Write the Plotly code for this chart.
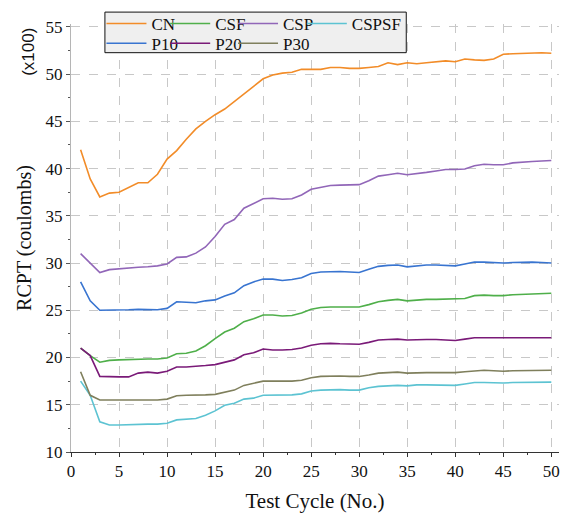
import plotly.graph_objects as go

# Test cycle numbers
cycles = list(range(1, 51))

# RCPT charge passed (x100 coulombs) per mix
cn = [42.0, 38.9, 37.0, 37.4, 37.5, 38.0, 38.5, 38.5, 39.4, 41.0,
      41.9, 43.1, 44.2, 45.0, 45.7, 46.3, 47.1, 48.0, 48.7, 49.5,
      49.9, 50.1, 50.2, 50.5, 50.5, 50.5, 50.7, 50.7, 50.6, 50.6,
      50.7, 50.8, 51.2, 51.0, 51.2, 51.1, 51.2, 51.3, 51.4, 51.3,
      51.6, 51.5, 51.45, 51.6, 52.1, 52.15, 52.2, 52.25, 52.25, 52.2]
csf = [21.0, 20.2, 19.5, 19.7, 19.75, 19.8, 19.8, 19.85, 19.85, 19.95,
       20.4, 20.45, 20.7, 21.25, 22.0, 22.7, 23.1, 23.8, 24.1, 24.5,
       24.5, 24.4, 24.45, 24.7, 25.1, 25.3, 25.35, 25.35, 25.35, 25.35,
       25.6, 25.9, 26.05, 26.15, 26.0, 26.1, 26.15, 26.15, 26.2, 26.2,
       26.25, 26.55, 26.6, 26.55, 26.55, 26.65, 26.7, 26.75, 26.8, 26.8]
csp = [31.0, 30.0, 29.0, 29.3, 29.4, 29.45, 29.55, 29.6, 29.7, 29.9,
       30.6, 30.65, 31.05, 31.7, 32.8, 34.1, 34.6, 35.8, 36.3, 36.8,
       36.85, 36.75, 36.8, 37.2, 37.8, 38.0, 38.2, 38.25, 38.3, 38.3,
       38.7, 39.2, 39.35, 39.5, 39.35, 39.45, 39.6, 39.75, 39.9, 39.9,
       39.95, 40.3, 40.45, 40.4, 40.4, 40.6, 40.7, 40.75, 40.8, 40.85]
cspsf = [17.5, 16.0, 13.2, 12.85, 12.85, 12.9, 12.95, 12.95, 12.95, 13.05,
         13.4, 13.45, 13.55, 13.9, 14.35, 14.95, 15.15, 15.6, 15.7, 16.0,
         16.0, 16.0, 16.05, 16.15, 16.45, 16.55, 16.6, 16.6, 16.55, 16.55,
         16.8, 16.95, 17.0, 17.05, 17.0, 17.1, 17.1, 17.1, 17.1, 17.05,
         17.2, 17.35, 17.35, 17.3, 17.3, 17.35, 17.35, 17.4, 17.4, 17.4]
p10 = [28.0, 26.0, 25.0, 25.0, 25.0, 25.05, 25.1, 25.05, 25.05, 25.2,
       25.9, 25.85, 25.8, 26.0, 26.1, 26.5, 26.85, 27.6, 28.0, 28.3,
       28.3, 28.15, 28.25, 28.45, 28.9, 29.05, 29.1, 29.1, 29.05, 29.0,
       29.35, 29.65, 29.75, 29.8, 29.6, 29.7, 29.8, 29.8, 29.75, 29.7,
       29.9, 30.1, 30.1, 30.05, 30.0, 30.05, 30.1, 30.1, 30.05, 30.0]
p20 = [21.0, 20.2, 18.0, 17.95, 17.95, 17.95, 18.35, 18.45, 18.35, 18.55,
       19.0, 19.0, 19.05, 19.15, 19.25, 19.5, 19.75, 20.3, 20.5, 20.9,
       20.8, 20.8, 20.85, 21.0, 21.3, 21.45, 21.5, 21.45, 21.4, 21.4,
       21.6, 21.85, 21.9, 21.95, 21.85, 21.9, 21.9, 21.9, 21.85, 21.8,
       21.95, 22.1, 22.1, 22.1, 22.1, 22.1, 22.1, 22.1, 22.1, 22.1]
p30 = [18.5, 16.0, 15.5, 15.5, 15.5, 15.5, 15.5, 15.5, 15.5, 15.6,
       15.95, 16.0, 16.0, 16.05, 16.1, 16.3, 16.55, 17.05, 17.25, 17.5,
       17.5, 17.5, 17.5, 17.6, 17.85, 18.0, 18.05, 18.05, 18.0, 18.0,
       18.15, 18.35, 18.4, 18.45, 18.35, 18.4, 18.4, 18.4, 18.4, 18.4,
       18.5, 18.6, 18.65, 18.6, 18.55, 18.6, 18.6, 18.65, 18.65, 18.65]

# (name, values, colour)
series = [
    ("CN", cn, "#F28C28"),
    ("CSF", csf, "#4FAF4A"),
    ("CSP", csp, "#9166B8"),
    ("CSPSF", cspsf, "#5CC3D2"),
    ("P10", p10, "#3874D0"),
    ("P20", p20, "#7A1A78"),
    ("P30", p30, "#7F7F5C"),
]

x_ticks = [0, 5, 10, 15, 20, 25, 30, 35, 40, 45, 50]
y_ticks = [10, 15, 20, 25, 30, 35, 40, 45, 50, 55]

serif = "Liberation Serif, Times New Roman, serif"

# one small legend per entry, laid out as a 4-column grid
col_x = [0.0624, 0.193, 0.332, 0.473]
row_y = [1.042, 0.996]

fig = go.Figure()
legends = {}
for i, (name, vals, color) in enumerate(series):
    key = "legend" if i == 0 else f"legend{i + 1}"
    fig.add_trace(go.Scatter(x=cycles, y=vals, name=name, mode="lines",
                             legend=key,
                             line=dict(color=color, width=1.6)))
    legends[key] = dict(
        x=col_x[i % 4], y=row_y[i // 4],
        orientation="v", xanchor="left", yanchor="top",
        bgcolor="rgba(0,0,0,0)", borderwidth=0,
        font=dict(family=serif, size=17, color="#111"),
        itemwidth=40, tracegroupgap=0,
    )

fig.update_layout(
    width=566, height=514,
    margin=dict(l=71, r=6, t=22, b=60),
    paper_bgcolor="white", plot_bgcolor="white",
    font=dict(family=serif, size=17, color="#111"),
    showlegend=True,
    **legends,
)

# frame behind the legend grid
fig.add_shape(type="rect", xref="paper", yref="paper",
              x0=0.0695, x1=0.687, y0=0.933, y1=1.0278,
              fillcolor="#efefef", line=dict(color="#111", width=1),
              layer="above")

fig.update_xaxes(
    range=[0, 50.8], tickvals=x_ticks, ticktext=[str(v) for v in x_ticks],
    showline=True, linecolor="#333", linewidth=1,
    ticks="outside", ticklen=4, tickcolor="#333",
    showgrid=True, gridcolor="#c8c8c8", griddash="dash", gridwidth=1,
    zeroline=False,
    minor=dict(ticks="outside", ticklen=2, dtick=2.5, tick0=0,
               tickcolor="#333", showgrid=False),
    title=dict(text="Test Cycle (No.)", font=dict(family=serif, size=21),
               standoff=12),
    tickfont=dict(family=serif, size=17),
)
fig.update_yaxes(
    range=[10, 55.3], tickvals=y_ticks, ticktext=[str(v) for v in y_ticks],
    showline=True, linecolor="#b5b5b5", linewidth=1,
    ticks="outside", ticklen=4, tickcolor="#555",
    showgrid=True, gridcolor="#c8c8c8", griddash="dash", gridwidth=1,
    zeroline=False,
    minor=dict(ticks="outside", ticklen=2, dtick=2.5, tick0=10,
               tickcolor="#555", showgrid=False),
    title=dict(text="RCPT (coulombs)", font=dict(family=serif, size=20),
               standoff=8),
    tickfont=dict(family=serif, size=17),
)

# scale factor label beside the top of the y axis
fig.add_annotation(
    text="(x100)", xref="paper", yref="paper",
    x=-0.086, y=0.935, xanchor="center", yanchor="middle",
    textangle=-90, showarrow=False,
    font=dict(family="Liberation Sans, Arial, sans-serif", size=17, color="#111"),
)

fig.write_html("out.html")
